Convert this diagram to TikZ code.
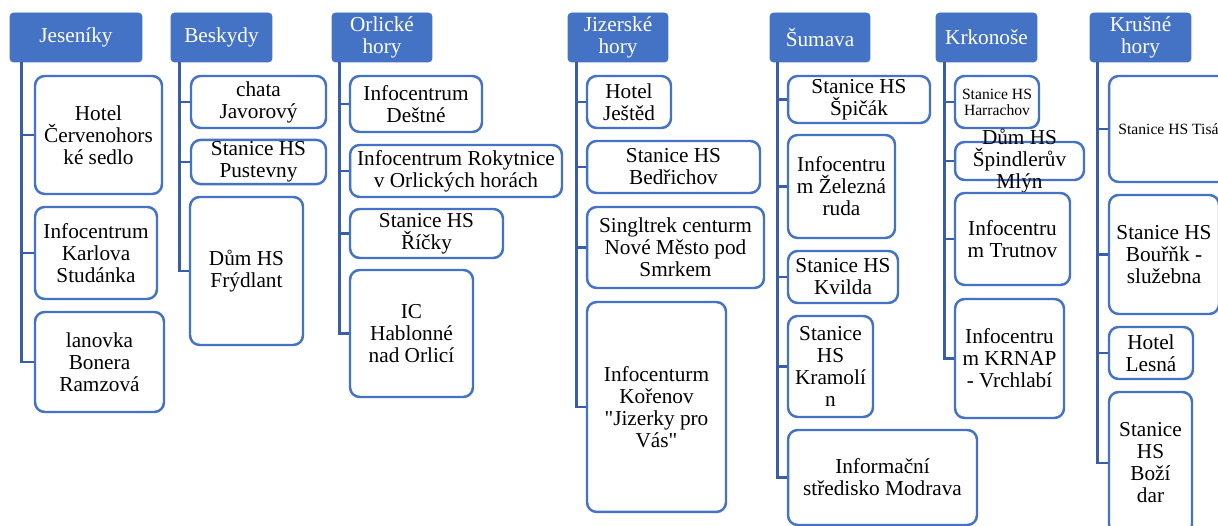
\documentclass[tikz,border=0pt]{standalone}
\usepackage{fontspec}
\setmainfont{Liberation Serif}[Ligatures=TeXOff]
\usetikzlibrary{calc}
\definecolor{hdrblue}{HTML}{4472C4}
\definecolor{lnkblue}{HTML}{3A5DA8}
\tikzset{
  hdr/.style={draw=hdrblue, fill=hdrblue, rounded corners=2pt, text=white, align=center,
    minimum height=0.98cm, inner sep=1pt, font=\fontsize{12.1}{12.5}\selectfont},
  leaf/.style={draw=hdrblue, line width=1.4pt, fill=white, rounded corners=5.5pt, align=center,
    inner sep=1pt, font=\fontsize{12.1}{12.5}\selectfont},
  tiny/.style={font=\fontsize{8.9}{9.1}\selectfont},
  link/.style={draw=lnkblue, line width=1.7pt},
}
\begin{document}
\begin{tikzpicture}[x=0.02cm, y=-0.02cm]
    \useasboundingbox (0,0) rectangle (1218,526);
    % regions
    \node[hdr, minimum width=2.64cm] (jes) at (76,37.5) {Jeseníky};
    \node[hdr, minimum width=2.02cm] (bes) at (221.5,37.5) {Beskydy};
    \node[hdr, minimum width=2.00cm] (orl) at (382,37.5) {Orlické\\hory};
    \node[hdr, minimum width=2.00cm] (jiz) at (618,37.5) {Jizerské\\hory};
    \node[hdr, minimum width=2.00cm] (sum) at (820,37.5) {Šumava};
    \node[hdr, minimum width=2.02cm] (krk) at (986.5,37.5) {Krkonoše};
    \node[hdr, minimum width=2.02cm] (kru) at (1140.5,37.5) {Krušné\\hory};

    % Jeseníky
    \node[leaf, minimum width=2.54cm, minimum height=2.36cm] (j1) at (98.5,135) {Hotel\\Červenohors\\ké sedlo};
    \node[leaf, minimum width=2.44cm, minimum height=1.84cm] (j2) at (96,253) {Infocentrum\\Karlova\\Studánka};
    \node[leaf, minimum width=2.58cm, minimum height=2.00cm] (j3) at (99.5,362) {lanovka\\Bonera\\Ramzová};
    % Beskydy
    \node[leaf, minimum width=2.70cm, minimum height=1.04cm] (b1) at (258.5,102) {chata\\Javorový};
    \node[leaf, minimum width=2.70cm, minimum height=0.88cm] (b2) at (258.5,162) {Stanice HS\\Pustevny};
    \node[leaf, minimum width=2.26cm, minimum height=2.96cm] (b3) at (246.5,271) {Dům HS\\Frýdlant};
    % Orlické hory
    \node[leaf, minimum width=2.64cm, minimum height=1.12cm] (o1) at (416,104) {Infocentrum\\Deštné};
    \node[leaf, minimum width=4.24cm, minimum height=1.04cm] (o2) at (456,171) {Infocentrum Rokytnice\\v Orlických horách};
    \node[leaf, minimum width=3.06cm, minimum height=0.98cm] (o3) at (426.5,233.5) {Stanice HS\\Říčky};
    \node[leaf, minimum width=2.46cm, minimum height=2.54cm] (o4) at (411.5,333.5) {IC\\Hablonné\\nad Orlicí};
    % Jizerské hory
    \node[leaf, minimum width=1.68cm, minimum height=1.04cm] (z1) at (629,102) {Hotel\\Ještěd};
    \node[leaf, minimum width=3.46cm, minimum height=1.04cm] (z2) at (673.5,167) {Stanice HS\\Bedřichov};
    \node[leaf, minimum width=3.54cm, minimum height=1.62cm] (z3) at (675.5,247.5) {Singltrek centurm\\Nové Město pod\\Smrkem};
    \node[leaf, minimum width=2.78cm, minimum height=4.20cm] (z4) at (656.5,407) {Infocenturm\\Kořenov\\"Jizerky pro\\Vás"};
    % Šumava
    \node[leaf, minimum width=2.84cm, minimum height=0.94cm] (s1) at (859,99.5) {Stanice HS\\Špičák};
    \node[leaf, minimum width=2.14cm, minimum height=2.06cm] (s2) at (841.5,186.5) {Infocentru\\m Železná\\ruda};
    \node[leaf, minimum width=2.20cm, minimum height=1.04cm] (s3) at (843,277) {Stanice HS\\Kvilda};
    \node[leaf, minimum width=1.70cm, minimum height=2.02cm] (s4) at (830.5,366.5) {Stanice\\HS\\Kramolí\\n};
    \node[leaf, minimum width=3.78cm, minimum height=1.90cm] (s5) at (882.5,477.5) {Informační\\středisko Modrava};
    % Krkonoše
    \node[leaf, tiny, minimum width=1.68cm, minimum height=1.04cm] (k1) at (997,102) {Stanice HS\\Harrachov};
    \node[leaf, minimum width=2.58cm, minimum height=0.76cm,
      label={[align=center, font=\fontsize{12.1}{12.5}\selectfont]center:Dům HS\\Špindlerův\\Mlýn}] (k2) at (1019.5,161) {};
    \node[leaf, minimum width=2.30cm, minimum height=1.84cm] (k3) at (1012.5,239) {Infocentru\\m Trutnov};
    \node[leaf, minimum width=2.18cm, minimum height=2.38cm] (k4) at (1009.5,358.5) {Infocentru\\m KRNAP\\- Vrchlabí};
    % Krušné hory
    \node[leaf, tiny, minimum width=2.38cm, minimum height=2.12cm] (r1) at (1168.5,129) {Stanice HS Tisá};
    \node[leaf, minimum width=2.20cm, minimum height=2.38cm] (r2) at (1164,254.5) {Stanice HS\\Bouřňk -\\služebna};
    \node[leaf, minimum width=1.68cm, minimum height=1.04cm] (r3) at (1151,353) {Hotel\\Lesná};
    \node[leaf, minimum width=1.66cm, minimum height=2.84cm] (r4) at (1150.5,463) {Stanice\\HS\\Boží\\dar};

    % tree lines
    \foreach \p/\c/\d in {jes/j1/12, jes/j2/12, jes/j3/12, bes/b1/9, bes/b2/9, bes/b3/9,
        orl/o1/8, orl/o2/8, orl/o3/8, orl/o4/8, jiz/z1/9, jiz/z2/9, jiz/z3/9, jiz/z4/9,
        sum/s1/8, sum/s2/8, sum/s3/8, sum/s4/8, sum/s5/8, krk/k1/9, krk/k2/9, krk/k3/9, krk/k4/9,
        kru/r1/8, kru/r2/8, kru/r3/8, kru/r4/8}
      \draw[link] ($(\p.south west)+(\d,0)$) |- (\c.west);
  \end{tikzpicture}
\end{document}
